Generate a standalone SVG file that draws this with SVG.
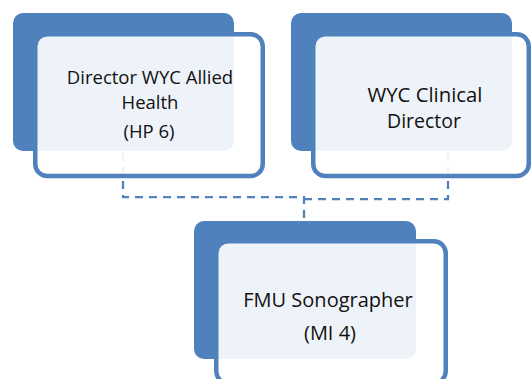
<svg xmlns="http://www.w3.org/2000/svg" width="531" height="379" viewBox="0 0 531 379">
  <style>
    .back { fill: #4F81BD; }
    .front { fill: #FFFFFF; fill-opacity: 0.9; stroke: #4F81BD; stroke-width: 4.5; }
    .link { fill: none; stroke: #4F81BD; stroke-width: 2.25; stroke-dasharray: 8 6; }
    text { font-family: "Open Sans", "Liberation Sans", sans-serif; fill: #111111; text-anchor: middle; }
    .s1 { font-size: 18.5px; }
    .s2 { font-size: 19.5px; }
    .s3 { font-size: 20px; }
  </style>

  <!-- shaded backing cards -->
  <rect class="back" x="13" y="13" width="221" height="138" rx="10"/>
  <rect class="back" x="291" y="13" width="221" height="138" rx="10"/>
  <rect class="back" x="194" y="221" width="222" height="138" rx="10"/>

  <!-- dashed reporting lines -->
  <g id="connectors">
    <path class="link" d="M123,153 V197 H304 V221"/>
    <path class="link" d="M448,153 V199 H304"/>
  </g>

  <g id="director-allied-health">
    <rect class="front" x="35.25" y="34.25" width="227.5" height="141.75" rx="12"/>
    <text class="s1" x="150" y="84">Director WYC Allied</text>
    <text class="s1" x="150" y="109">Health</text>
    <text class="s1" x="149" y="138">(HP 6)</text>
  </g>

  <g id="clinical-director">
    <rect class="front" x="313.25" y="34.25" width="215.5" height="141.75" rx="12"/>
    <text class="s2" x="425" y="101.5" textLength="115" lengthAdjust="spacingAndGlyphs">WYC Clinical</text>
    <text class="s2" x="424" y="127.5">Director</text>
  </g>

  <g id="fmu-sonographer">
    <rect class="front" x="216.25" y="241.25" width="229.5" height="142" rx="12"/>
    <text class="s3" x="328" y="306.5">FMU Sonographer</text>
    <text class="s3" x="330" y="340">(MI 4)</text>
  </g>
</svg>
